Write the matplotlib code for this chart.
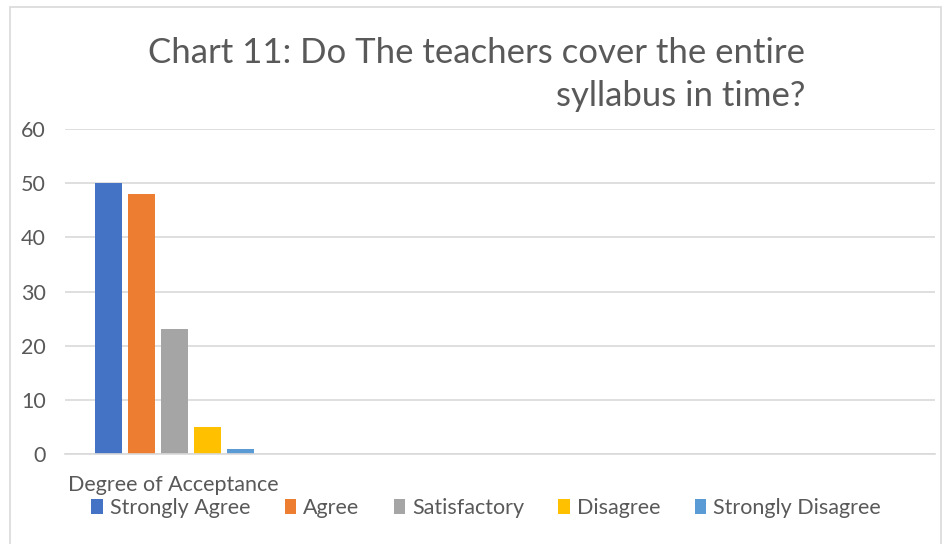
import matplotlib
matplotlib.use("Agg")
import matplotlib.pyplot as plt
from matplotlib.patches import Patch, Rectangle

categories = ["Strongly Agree", "Agree", "Satisfactory", "Disagree", "Strongly Disagree"]
values = [50, 48, 23, 5, 1]
colors = ["#4472C4", "#ED7D31", "#A5A5A5", "#FFC000", "#5B9BD5"]
yticks = [0, 10, 20, 30, 40, 50, 60]
title = "Chart 11: Do The teachers cover the entire\nsyllabus in time?"
xlabel = "Degree of Acceptance"

plt.rcParams['font.family'] = ['Lato', 'DejaVu Sans']
W, H = 945, 544
fig = plt.figure(figsize=(W/100, H/100), dpi=100)

# figure border
fig.patches.append(Rectangle((10/W, -0.1), (941-10)/W, 1.1 - 7/H, transform=fig.transFigure,
                             fill=False, edgecolor="#D9D9D9", linewidth=1.2))

ax = fig.add_axes([65/W, 1 - 454/H, (935-65)/W, (454-129)/H])
xs = list(range(len(values)))
ax.bar(xs, values, width=27/33, color=colors)
ax.set_xlim(-(108.5-65)/33, (935-108.5)/33)
ax.set_ylim(0, 60)
ax.set_yticks(yticks)
ax.set_yticklabels([str(t) for t in yticks], fontsize=15.5, color="#595959")
ax.set_xticks([])
ax.tick_params(axis='y', length=0, pad=14)
ax.grid(axis='y', color="#D9D9D9", linewidth=1.2)
ax.set_axisbelow(True)
for s in ['top', 'right', 'left']:
    ax.spines[s].set_visible(False)
ax.spines['bottom'].set_color("#D9D9D9")
ax.spines['bottom'].set_linewidth(1.2)

fig.text(805/W, 1 - 37/H, title, ha='right', va='top', multialignment='right',
         fontsize=25, color="#595959", linespacing=1.42)
fig.text(68/W, 1 - 485/H, xlabel, ha='left', va='center', fontsize=15.5, color="#595959")

handles = [Patch(facecolor=c, edgecolor='none') for c in colors]
leg = fig.legend(handles, categories, loc='center', bbox_to_anchor=(486/W, 1 - 508/H), ncol=5,
                 frameon=False, fontsize=15.5, handlelength=0.55, handleheight=0.7,
                 handletextpad=0.3, columnspacing=1.6, borderaxespad=0)
for t in leg.get_texts():
    t.set_color("#595959")

fig.savefig("out.png", dpi=100)
